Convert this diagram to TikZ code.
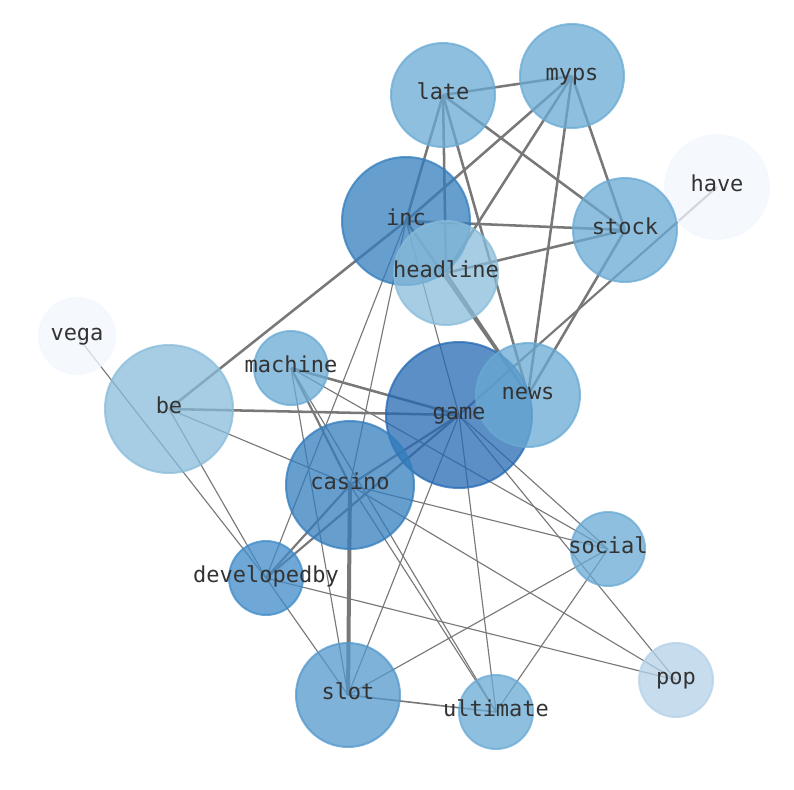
\documentclass[tikz,border=0pt]{standalone}
\usepackage{fontspec}
\setmonofont{DejaVu Sans Mono}
\usetikzlibrary{backgrounds}
\definecolor{bA}{RGB}{36,105,179}
\definecolor{bB}{RGB}{51,125,189}
\definecolor{bC}{RGB}{63,139,200}
\definecolor{bD}{RGB}{83,152,204}
\definecolor{bE}{RGB}{105,170,212}
\definecolor{bF}{RGB}{136,188,218}
\definecolor{bG}{RGB}{180,209,232}
\definecolor{bH}{RGB}{242,247,254}
\tikzset{
 blob/.style={circle,inner sep=0pt,draw=#1,fill=#1,opacity=0.75,line width=1.5pt},
 word/.style={font=\ttfamily\fontsize{16.5}{18}\selectfont,text=black!80,inner sep=0pt,text height=0.72em,text depth=0pt},
 heavy/.style={draw=black!53,line width=1.9pt},
 mid/.style={draw=black!53,line width=1.6pt},
 fine/.style={draw=black!53,line width=0.85pt}
}
\begin{document}
\begin{tikzpicture}[x=0.75pt,y=-0.75pt]
 \useasboundingbox (0,0) rectangle (794,790);
 \node[blob=bE,minimum size=78pt] (late) at (443,95) {};
 \node[blob=bE,minimum size=78pt] (myps) at (572,76) {};
 \node[blob=bH,minimum size=78pt] (have) at (717,187) {};
 \node[blob=bB,minimum size=96pt] (inc) at (406,221) {};
 \node[blob=bE,minimum size=78pt] (stock) at (625,230) {};
 \node[blob=bF,minimum size=78pt] (headline) at (446,273) {};
 \node[blob=bH,minimum size=57pt] (vega) at (77,336) {};
 \node[blob=bE,minimum size=55.5pt] (machine) at (291,368) {};
 \node[blob=bF,minimum size=96pt] (be) at (169,409) {};
 \node[blob=bA,minimum size=109.5pt] (game) at (459,415) {};
 \node[blob=bE,minimum size=78pt] (news) at (528,395) {};
 \node[blob=bB,minimum size=96pt] (casino) at (350,485) {};
 \node[blob=bE,minimum size=55.5pt] (social) at (608,549) {};
 \node[blob=bC,minimum size=55.5pt] (developedby) at (266,578) {};
 \node[blob=bG,minimum size=55.5pt] (pop) at (676,680) {};
 \node[blob=bD,minimum size=78pt] (slot) at (348,695) {};
 \node[blob=bE,minimum size=55.5pt] (ultimate) at (496,712) {};
 \begin{pgfonlayer}{background}
 \foreach \a/\b in {late/myps,late/inc,late/headline,late/stock,late/news,myps/inc,inc/be,myps/headline,myps/news,myps/stock,inc/stock,inc/news,headline/stock,headline/news,stock/news,be/game,machine/game}
  \draw[heavy] (\a.center) -- (\b.center);
 \foreach \a/\b in {casino/developedby,developedby/game,casino/game,have/game,machine/casino}
  \draw[mid] (\a.center) -- (\b.center);
 \draw[draw=black!53,line width=3pt] (casino.center) -- (slot.center);
 \foreach \a/\b in {inc/developedby,inc/casino,inc/game,vega/developedby,be/developedby,be/casino,developedby/slot,developedby/pop,machine/slot,machine/ultimate,casino/ultimate,machine/social,casino/social,casino/pop,game/social,game/pop,game/ultimate,game/slot,slot/social,ultimate/social}
  \draw[fine] (\a.center) -- (\b.center);
 \draw[draw=black!53,line width=1.2pt] (slot.center) -- (ultimate.center);
 \end{pgfonlayer}
 \foreach \n in {late,myps,have,inc,stock,headline,vega,machine,be,game,news,casino,social,developedby,pop,slot,ultimate}
  \node[word] at (\n) {\n};
\end{tikzpicture}
\end{document}
